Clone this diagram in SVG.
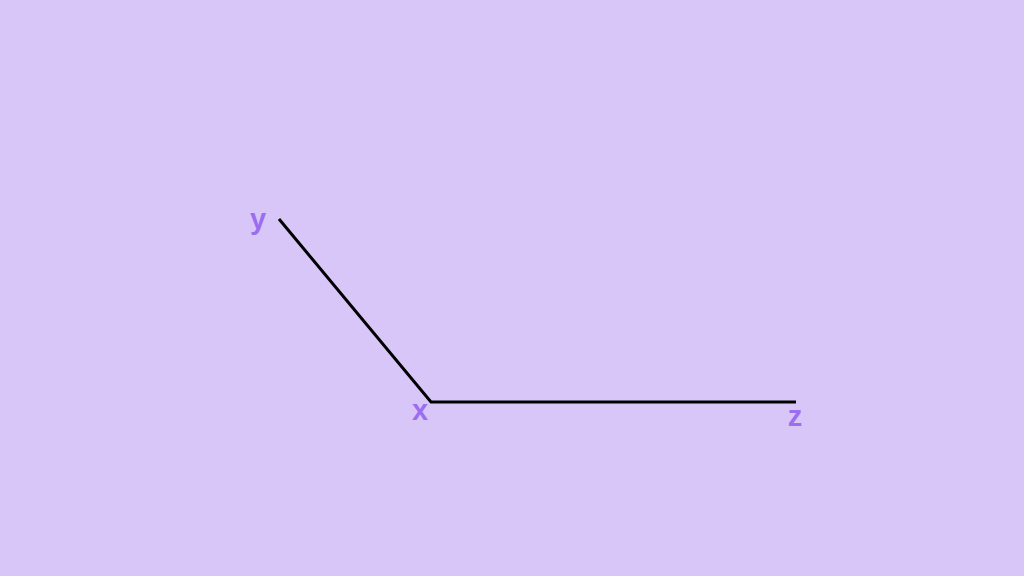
<svg xmlns="http://www.w3.org/2000/svg" width="1024" height="576" viewBox="0 0 1024 576">
<style>
.lbl{font-family:"Liberation Sans",Arial,sans-serif;font-size:29px;font-weight:bold;fill:#9b6ef0;text-anchor:middle}
.edge{stroke:#000;stroke-width:3;fill:none;stroke-linecap:butt}
</style>
<rect width="1024" height="576" fill="#d8c6f8"/>
<g id="connectors">
<path class="edge" d="M279 219 L431 402 L796 402"/>
</g>
<g id="node-y"><text class="lbl" x="258" y="229">y</text></g>
<g id="node-x"><text class="lbl" x="420" y="420">x</text></g>
<g id="node-z"><text class="lbl" x="795" y="426">z</text></g>
</svg>
